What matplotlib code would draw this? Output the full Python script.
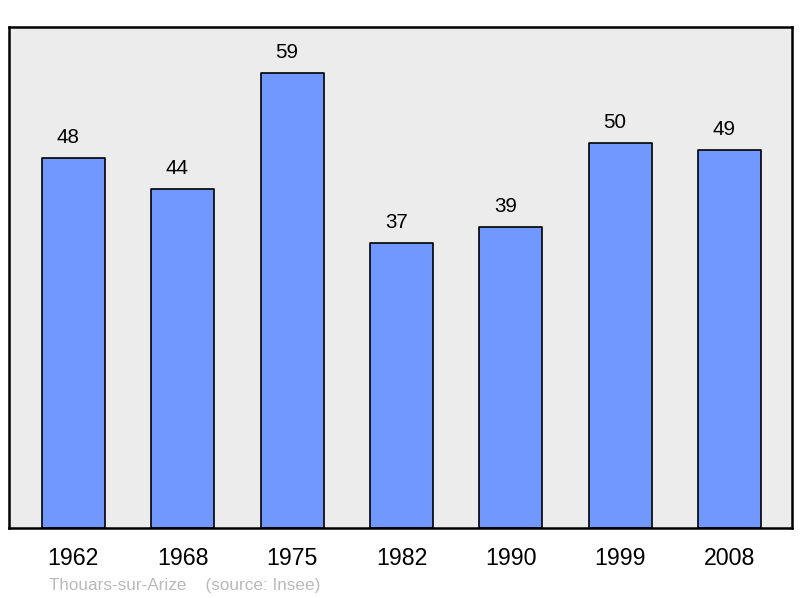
import matplotlib
matplotlib.use("Agg")
import matplotlib.pyplot as plt
import numpy as np

years = ["1962", "1968", "1975", "1982", "1990", "1999", "2008"]
values = [48, 44, 59, 37, 39, 50, 49]

plt.rcParams['font.family'] = ['Liberation Sans', 'DejaVu Sans']

fig = plt.figure(figsize=(8.0, 5.98), dpi=100)
W, H = 800, 598
ax = fig.add_axes([9 / W, (H - 528) / H, 783 / W, 501 / H])
ax.set_facecolor('#ececec')

x = np.arange(len(years))
bars = ax.bar(x, values, width=0.575, color='#7098ff', edgecolor='black', linewidth=1.2,
              joinstyle='round', zorder=2)
for b, v in zip(bars, values):
    ax.annotate(str(v), (b.get_x() + b.get_width() / 2, v), xytext=(-3.8, 10.8),
                textcoords='offset points', ha='center', va='baseline', fontsize=14.8, color='black')

ax.set_xlim(-0.589, 6.571)
ax.set_ylim(0, 65)
ax.set_xticks(x)
ax.set_xticklabels(years, fontsize=16.7)
ax.tick_params(axis='x', length=0, pad=13.5)
ax.set_yticks([])
for s in ax.spines.values():
    s.set_linewidth(1.8)
    s.set_color('black')
    s.set_joinstyle('round')

fig.text(49 / W, 1 - 585.5 / H, "Thouars-sur-Arize    (source: Insee)", fontsize=12.35, color='#bababa',
         ha='left', va='center')

fig.savefig("out.png", dpi=100)
